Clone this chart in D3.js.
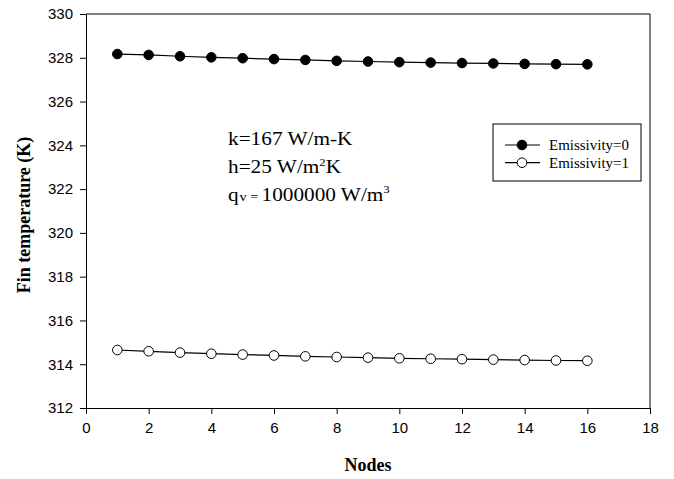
<!DOCTYPE html>
<html>
<head>
<meta charset="utf-8">
<script src="https://cdn.jsdelivr.net/npm/d3@7"></script>
<style>
  body { margin: 0; background: #fff; }
  svg { display: block; }
</style>
</head>
<body>
<svg id="chart" width="674" height="479"></svg>
<script>
// dati
const nodes = [1, 2, 3, 4, 5, 6, 7, 8, 9, 10, 11, 12, 13, 14, 15, 16];
const emissivity0 = [328.17, 328.13, 328.07, 328.02, 327.98, 327.94, 327.90, 327.86,
                     327.83, 327.80, 327.78, 327.76, 327.74, 327.72, 327.71, 327.70];
const emissivity1 = [314.65, 314.59, 314.53, 314.48, 314.44, 314.40, 314.36, 314.33,
                     314.30, 314.27, 314.25, 314.23, 314.21, 314.19, 314.17, 314.16];
const seriesNames = ["Emissivity=0", "Emissivity=1"];
const xTicks = [0, 2, 4, 6, 8, 10, 12, 14, 16, 18];
const yTicks = [312, 314, 316, 318, 320, 322, 324, 326, 328, 330];

const width = 674, height = 479;
const plotL = 86, plotR = 650, plotT = 14, plotB = 408;

const x = d3.scaleLinear().domain([0, 18]).range([plotL, plotR]);
const y = d3.scaleLinear().domain([312, 330]).range([plotB, plotT]);

const svg = d3.select("#chart");
const sans = "'Liberation Sans', Arial, sans-serif";
const serif = "'Liberation Serif', 'Times New Roman', serif";

// cornice (lato alto e destro)
svg.append("path")
  .attr("d", `M${plotL},${plotT}H${plotR}V${plotB}`)
  .attr("fill", "none")
  .attr("stroke", "#000")
  .attr("stroke-width", 1);

// assi
const xAxis = svg.append("g")
  .attr("transform", `translate(0,${plotB})`)
  .call(d3.axisBottom(x).tickValues(xTicks).tickSize(6).tickSizeOuter(0).tickPadding(8));
const yAxis = svg.append("g")
  .attr("transform", `translate(${plotL},0)`)
  .call(d3.axisLeft(y).tickValues(yTicks).tickSize(6).tickSizeOuter(0).tickPadding(7));

[xAxis, yAxis].forEach(g => {
  g.selectAll("path, line").attr("stroke", "#000").attr("stroke-width", 1);
  g.selectAll("text").attr("fill", "#000").style("font-family", sans).style("font-size", "15px");
});

// titoli degli assi
svg.append("text")
  .attr("x", (plotL + plotR) / 2).attr("y", 471)
  .attr("text-anchor", "middle")
  .style("font-family", serif).style("font-size", "18px").style("font-weight", "bold")
  .text("Nodes");

svg.append("text")
  .attr("transform", `translate(30,${(plotT + plotB) / 2 + 4}) rotate(-90)`)
  .attr("text-anchor", "middle")
  .style("font-family", serif).style("font-size", "18px").style("font-weight", "bold")
  .text("Fin temperature (K)");

// serie
const series = [
  { name: seriesNames[0], values: emissivity0, fill: "#000" },
  { name: seriesNames[1], values: emissivity1, fill: "#fff" }
];

const line = d3.line()
  .x((d, i) => x(nodes[i]))
  .y(d => y(d));

series.forEach(s => {
  svg.append("path")
    .datum(s.values)
    .attr("d", line)
    .attr("fill", "none")
    .attr("stroke", "#000")
    .attr("stroke-width", 1.2);

  svg.append("g")
    .selectAll("circle")
    .data(s.values)
    .join("circle")
    .attr("cx", (d, i) => x(nodes[i]))
    .attr("cy", d => y(d))
    .attr("r", 4.8)
    .attr("fill", s.fill)
    .attr("stroke", "#000")
    .attr("stroke-width", 1);
});

// annotazione con i parametri (testo un po' allargato come nell'originale)
const nx = 228, sx = 1.15;
const note = svg.append("g")
  .attr("transform", `translate(${nx},0) scale(${sx},1)`)
  .style("font-family", serif).style("font-size", "18.5px").attr("fill", "#000");

note.append("text").attr("x", 0).attr("y", 145).text("k=167 W/m-K");

const t2 = note.append("text").attr("x", 0).attr("y", 173);
t2.append("tspan").text("h=25 W/m");
t2.append("tspan").attr("dy", -7).style("font-size", "11px").text("2");
t2.append("tspan").attr("dy", 7).text("K");

const t3 = note.append("text").attr("x", 0).attr("y", 201);
t3.append("tspan").text("q");
t3.append("tspan").attr("x", (239.5 - nx) / sx).style("font-size", "12.5px").text("v =");
t3.append("tspan").attr("x", (261.5 - nx) / sx).text("1000000 W/m");
t3.append("tspan").attr("dy", -8).style("font-size", "11px").text("3");

// legenda
const legend = svg.append("g");
legend.append("rect")
  .attr("x", 493).attr("y", 124)
  .attr("width", 148).attr("height", 57)
  .attr("fill", "#fff").attr("stroke", "#000").attr("stroke-width", 1);

series.forEach((s, i) => {
  const ly = 145 + i * 17.7;
  legend.append("line")
    .attr("x1", 505).attr("x2", 540).attr("y1", ly).attr("y2", ly)
    .attr("stroke", "#000").attr("stroke-width", 1.2);
  legend.append("circle")
    .attr("cx", 522).attr("cy", ly).attr("r", 4.8)
    .attr("fill", s.fill).attr("stroke", "#000");
  legend.append("text")
    .attr("x", 549).attr("y", ly + 5)
    .attr("textLength", 80).attr("lengthAdjust", "spacingAndGlyphs")
    .style("font-family", serif).style("font-size", "14px")
    .text(s.name);
});
</script>
</body>
</html>
